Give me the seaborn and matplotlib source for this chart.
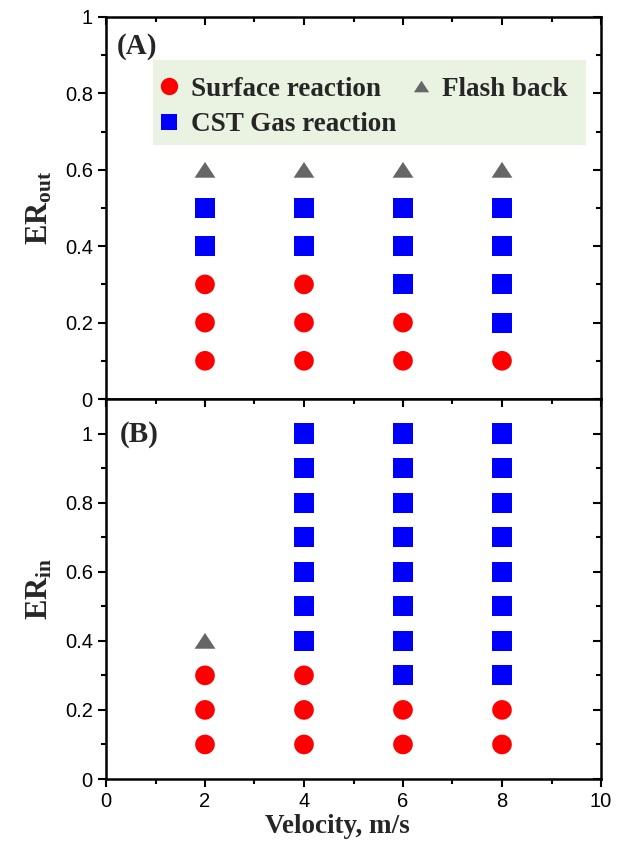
import matplotlib
matplotlib.use("Agg")
import matplotlib.pyplot as plt
from matplotlib.lines import Line2D
from matplotlib.patches import Rectangle
from matplotlib.ticker import MultipleLocator, FuncFormatter
import pandas as pd
import seaborn as sns

# Inlet velocities (m/s)
velocity = [2, 4, 6, 8]

# Outlet equivalence ratio: combustion regime observed at each velocity
out_surface = [[0.1, 0.2, 0.3], [0.1, 0.2, 0.3], [0.1, 0.2], [0.1]]
out_gas = [[0.4, 0.5], [0.4, 0.5], [0.3, 0.4, 0.5], [0.2, 0.3, 0.4, 0.5]]
out_flash = [[0.6], [0.6], [0.6], [0.6]]

# Inlet equivalence ratio: combustion regime observed at each velocity
in_surface = [[0.1, 0.2, 0.3], [0.1, 0.2, 0.3], [0.1, 0.2], [0.1, 0.2]]
in_gas = [[],
          [0.4, 0.5, 0.6, 0.7, 0.8, 0.9, 1.0],
          [0.3, 0.4, 0.5, 0.6, 0.7, 0.8, 0.9, 1.0],
          [0.3, 0.4, 0.5, 0.6, 0.7, 0.8, 0.9, 1.0]]
in_flash = [[0.4], [], [], []]

regimes = ["Surface reaction", "CST Gas reaction", "Flash back"]
x_ticks = [0, 2, 4, 6, 8, 10]
y_ticks = [0, 0.2, 0.4, 0.6, 0.8, 1.0]


def to_frame(surface, gas, flash):
    rows = []
    for regime, groups in zip(regimes, (surface, gas, flash)):
        for v, ers in zip(velocity, groups):
            for er in ers:
                rows.append({"velocity": v, "er": er, "regime": regime})
    return pd.DataFrame(rows)


df_out = to_frame(out_surface, out_gas, out_flash)
df_in = to_frame(in_surface, in_gas, in_flash)

sns.set_style("white")
plt.rcParams["font.family"] = ["Liberation Sans", "DejaVu Sans"]
plt.rcParams["mathtext.fontset"] = "custom"
plt.rcParams["mathtext.rm"] = "Liberation Serif:bold"
plt.rcParams["mathtext.it"] = "Liberation Serif:bold"
plt.rcParams["mathtext.bf"] = "Liberation Serif:bold"

palette = {"Surface reaction": "#FF0000", "CST Gas reaction": "#0000FF",
           "Flash back": "#666666"}
tri = [(-1.0, -0.76), (1.0, -0.76), (0.0, 0.76)]
markers = {"Surface reaction": "o", "CST Gas reaction": "s", "Flash back": tri}
sizes = {"Surface reaction": 200, "CST Gas reaction": 210, "Flash back": 225}
legend_msize = {"Surface reaction": 12.5, "CST Gas reaction": 12, "Flash back": 11}

fig = plt.figure(figsize=(6.2, 8.55), dpi=100)
left, width = 106 / 620, 495 / 620
ax_top = fig.add_axes([left, 456 / 855, width, 382 / 855])
ax_bot = fig.add_axes([left, 76 / 855, width, 380 / 855])

serif_bold = {"family": "Liberation Serif", "weight": "bold"}

for ax, df, ymax in ((ax_top, df_out, 1.0), (ax_bot, df_in, 1.1)):
    sns.scatterplot(data=df, x="velocity", y="er", hue="regime", style="regime",
                    size="regime", palette=palette, markers=markers, sizes=sizes,
                    hue_order=regimes, style_order=regimes, size_order=regimes,
                    linewidth=0, legend=False, ax=ax, zorder=3, clip_on=False)
    ax.set_xlim(0, 10)
    ax.set_ylim(0, ymax)
    ax.set_xticks(x_ticks)
    ax.set_yticks(y_ticks)
    ax.xaxis.set_minor_locator(MultipleLocator(1))
    ax.yaxis.set_minor_locator(MultipleLocator(0.1))
    ax.yaxis.set_major_formatter(FuncFormatter(lambda v, p: f"{v:g}"))
    for s in ax.spines.values():
        s.set_linewidth(1.8)
        s.set_color("black")
        s.set_visible(True)
    ax.tick_params(axis="both", which="both", width=1.5, colors="black",
                   labelsize=14.5)
    ax.tick_params(axis="both", which="major", length=6)
    ax.tick_params(axis="both", which="minor", length=3.5)
    ax.tick_params(axis="y", which="both", left=True, right=True,
                   direction="out")
    ax.tick_params(axis="x", which="both", bottom=True, top=True,
                   direction="out")
    ax.set_xlabel("")
    ax.set_ylabel("")
    ax.patch.set_facecolor("white")

# mirror ticks on the top and right point inward
for ax in (ax_top, ax_bot):
    for t in ax.xaxis.get_major_ticks() + ax.xaxis.get_minor_ticks():
        t.tick2line.set_marker(3)
    for t in ax.yaxis.get_major_ticks() + ax.yaxis.get_minor_ticks():
        t.tick2line.set_marker(0)

ax_top.tick_params(axis="x", labelbottom=False)
ax_top.set_ylabel(r"ER$_{\mathrm{out}}$", fontsize=22, **serif_bold)
ax_bot.set_ylabel(r"ER$_{\mathrm{in}}$", fontsize=22, **serif_bold)
ax_top.yaxis.set_label_coords(-0.105, 0.5)
ax_bot.yaxis.set_label_coords(-0.105, 0.5)
ax_bot.set_xlabel("Velocity, m/s", fontsize=19.5, **serif_bold)
ax_bot.xaxis.set_label_coords(0.467, -0.092)

ax_top.text(0.022, 0.958, "(A)", transform=ax_top.transAxes, ha="left",
            va="top", fontsize=21, **serif_bold)
ax_bot.text(0.028, 0.943, "(B)", transform=ax_bot.transAxes, ha="left",
            va="top", fontsize=21, **serif_bold)

# shaded legend panel
ax_top.add_patch(Rectangle((0.095, 0.665), 0.875, 0.222, transform=ax_top.transAxes,
                           facecolor="#EAF3E1", edgecolor="none", zorder=1))

handles = [Line2D([], [], linestyle="none", marker=markers[r],
                  color=palette[r], markersize=legend_msize[r],
                  markeredgewidth=0) for r in regimes]
leg = ax_top.legend(handles, regimes, loc="upper left",
                    bbox_to_anchor=(0.095, 0.858), ncol=2, frameon=False,
                    prop={"family": "Liberation Serif", "weight": "bold",
                          "size": 19.5},
                    handlelength=0.8, handletextpad=0.4, columnspacing=0.5,
                    labelspacing=0.4, borderpad=0.2, borderaxespad=0)
leg.set_zorder(4)

fig.savefig("out.png", dpi=100, facecolor="white")
